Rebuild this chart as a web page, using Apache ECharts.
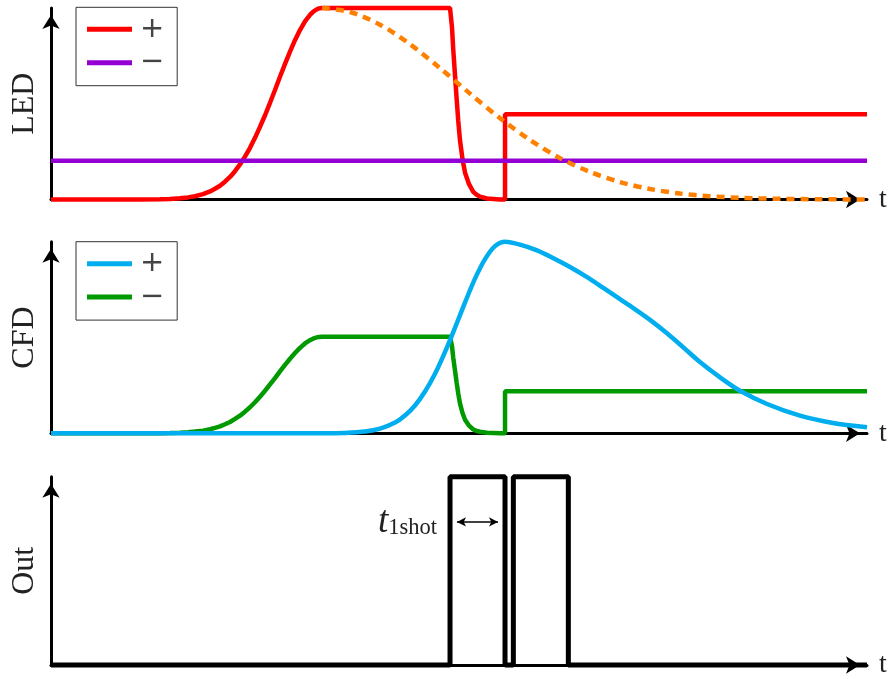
<!DOCTYPE html>
<html>
<head>
<meta charset="utf-8">
<script src="https://cdn.jsdelivr.net/npm/echarts@6.0.0/dist/echarts.min.js"></script>
<style>
  html, body { margin: 0; padding: 0; background: #fff; }
  #chart { width: 888px; height: 679px; }
</style>
</head>
<body>
<div id="chart"></div>
<script>
// time runs 0..100 across every panel, level 0..1 up every panel
const ledPlus = [
  [0, 0], [10.91, 0], [13.36, 0.001], [14.58, 0.003], [15.81, 0.006], [16.79, 0.011],
  [17.65, 0.017], [18.63, 0.028], [19.49, 0.042], [20.1, 0.056], [20.71, 0.072],
  [21.32, 0.093], [21.94, 0.118], [22.55, 0.148], [23.16, 0.183], [23.77, 0.224],
  [24.39, 0.27], [25.0, 0.322], [25.61, 0.379], [26.23, 0.44], [26.84, 0.505],
  [27.45, 0.572], [28.06, 0.641], [28.68, 0.708], [29.29, 0.772], [29.9, 0.832],
  [30.51, 0.885], [31.13, 0.93], [31.74, 0.964], [32.11, 0.98], [32.48, 0.991],
  [32.84, 0.998], [33.21, 1], [48.9, 1], [49.14, 0.9], [49.3, 0.78], [49.51, 0.65],
  [49.72, 0.52], [49.91, 0.41], [50.12, 0.31], [50.43, 0.21], [50.74, 0.14],
  [51.23, 0.08], [51.75, 0.04], [52.16, 0.025], [52.57, 0.015], [53.43, 0.005],
  [55.02, 0], [55.64, 0], [55.64, 0.445], [100, 0.445]
];
const ledMinus = [[0, 0.203], [100, 0.203]];
const ledPulse = [
  [33.21, 1], [36.64, 0.979], [40.32, 0.913], [44.0, 0.811], [47.67, 0.686],
  [51.35, 0.553], [55.02, 0.425], [58.7, 0.311], [62.38, 0.216], [66.05, 0.144],
  [69.73, 0.091], [73.41, 0.055], [77.08, 0.031], [80.76, 0.017], [84.44, 0.009],
  [89.34, 0.0035], [94.24, 0.0012], [100, 0]
];
const cfdPlus = [
  [0, 0], [33.58, 0], [36.03, 0.002], [38.48, 0.009], [40.32, 0.024], [42.16, 0.056],
  [43.38, 0.093], [44.61, 0.145], [45.83, 0.218], [47.06, 0.311], [48.28, 0.424],
  [49.51, 0.551], [50.74, 0.683], [51.96, 0.807], [53.19, 0.909], [54.41, 0.977],
  [55.64, 1], [57.48, 0.985], [59.56, 0.955], [61.52, 0.915], [63.6, 0.868],
  [65.69, 0.815], [67.65, 0.76], [69.73, 0.7], [71.32, 0.655], [73.41, 0.592],
  [75.49, 0.522], [77.45, 0.45], [79.53, 0.372], [81.99, 0.292], [84.44, 0.222],
  [87.75, 0.153], [91.79, 0.092], [95.83, 0.054], [100, 0.032]
];
const cfdMinus = [
  [0, 0], [10.91, 0], [13.36, 0.0005], [14.58, 0.0015], [15.81, 0.003], [16.79, 0.0055],
  [17.65, 0.009], [18.63, 0.014], [19.49, 0.021], [20.1, 0.028], [20.71, 0.036],
  [21.32, 0.047], [21.94, 0.059], [22.55, 0.075], [23.16, 0.092], [23.77, 0.113],
  [24.39, 0.136], [25.0, 0.162], [25.61, 0.191], [26.23, 0.222], [26.84, 0.255],
  [27.45, 0.288], [28.06, 0.323], [28.68, 0.357], [29.29, 0.389], [29.9, 0.419],
  [30.51, 0.446], [31.13, 0.469], [31.74, 0.486], [32.11, 0.494], [32.48, 0.499],
  [32.84, 0.503], [33.21, 0.504], [48.9, 0.504], [49.14, 0.454], [49.3, 0.393],
  [49.51, 0.328], [49.72, 0.262], [49.91, 0.207], [50.12, 0.156], [50.43, 0.106],
  [50.74, 0.071], [51.23, 0.04], [51.75, 0.02], [52.16, 0.013], [52.57, 0.008],
  [53.43, 0.003], [55.02, 0], [55.64, 0], [55.64, 0.22], [100, 0.22]
];
const outSignal = [
  [0, 0], [48.9, 0], [48.9, 1], [55.64, 1], [55.64, 0], [56.66, 0],
  [56.66, 1], [63.4, 1], [63.4, 0], [100, 0]
];
const shotSpan = [49.75, 54.78];
const shotLevel = 0.76;
const axisNames = ['LED', 'CFD', 'Out'];

const SERIF = 'Liberation Serif';
const grids = [
  { left: 51, right: 21, top: 8, height: 191.5 },
  { left: 51, right: 21, top: 241.7, height: 191.6 },
  { left: 51, right: 21, top: 476.7, height: 190 }
];

const arrowLine = {
  symbol: ['none', 'arrow'],
  symbolSize: [13, 14],
  symbolOffset: [0, -7],
  lineStyle: { color: '#000', width: 3 }
};

const xAxis = grids.map((g, i) => ({
  gridIndex: i,
  type: 'value',
  min: 0,
  max: 100,
  name: 't',
  nameLocation: 'end',
  nameGap: 12,
  nameTextStyle: { fontFamily: SERIF, fontSize: 28, color: '#222' },
  axisLine: arrowLine,
  axisTick: { show: false },
  axisLabel: { show: false },
  splitLine: { show: false }
}));

const yAxis = grids.map((g, i) => ({
  gridIndex: i,
  type: 'value',
  min: 0,
  max: 1,
  name: axisNames[i],
  nameLocation: 'middle',
  nameRotate: 90,
  nameGap: 10,
  nameTextStyle: { fontFamily: SERIF, fontSize: 32, color: '#222' },
  axisLine: arrowLine,
  axisTick: { show: false },
  axisLabel: { show: false },
  splitLine: { show: false }
}));

const legendBox = (top, names) => ({
  data: names,
  orient: 'vertical',
  left: 76,
  top,
  icon: 'rect',
  itemWidth: 45,
  itemHeight: 5,
  itemGap: 3.4,
  padding: [7, 13, 8, 11],
  borderColor: '#333',
  borderWidth: 1,
  selectedMode: false,
  itemStyle: { borderWidth: 0 },
  formatter: name => '\u200A' + name.slice(-1),
  textStyle: { fontFamily: 'DejaVu Sans', fontSize: 29, lineHeight: 30, color: '#444' }
});

const line = (name, data, color, grid, extra) => Object.assign({
  name,
  type: 'line',
  data,
  xAxisIndex: grid,
  yAxisIndex: grid,
  symbol: 'none',
  clip: false,
  lineStyle: { color, width: 4.5 },
  itemStyle: { color }
}, extra);

const chart = echarts.init(document.getElementById('chart'));
chart.setOption({
  animation: false,
  grid: grids,
  xAxis,
  yAxis,
  legend: [
    legendBox(7.3, ['LED+', 'LED−']),
    legendBox(241.7, ['CFD+', 'CFD−'])
  ],
  series: [
    line('LED+', ledPlus, '#ff0000', 0),
    line('LED−', ledMinus, '#9400d3', 0),
    line('LED delayed', ledPulse, '#ff8000', 0, {
      smooth: 0.3,
      lineStyle: { color: '#ff8000', width: 4.5, type: [8, 6] }
    }),
    line('CFD−', cfdMinus, '#009900', 1),
    line('CFD+', cfdPlus, '#00aeef', 1, { smooth: 0.3 }),
    line('Out', outSignal, '#000', 2, {
      lineStyle: { color: '#000', width: 5 },
      markLine: {
        silent: true,
        symbol: ['arrow', 'arrow'],
        symbolSize: [7, 9],
        lineStyle: { color: '#000', width: 1.5, type: 'solid' },
        label: {
          position: 'start',
          distance: 20,
          formatter: '{t|t}{s|1shot}',
          rich: {
            t: { fontFamily: SERIF, fontStyle: 'italic', fontSize: 37, color: '#222' },
            s: { fontFamily: SERIF, fontSize: 22.5, color: '#222', padding: [12, 0, 0, 0] }
          }
        },
        data: [[{ coord: [shotSpan[0], shotLevel] }, { coord: [shotSpan[1], shotLevel] }]]
      }
    })
  ]
});
</script>
</body>
</html>
